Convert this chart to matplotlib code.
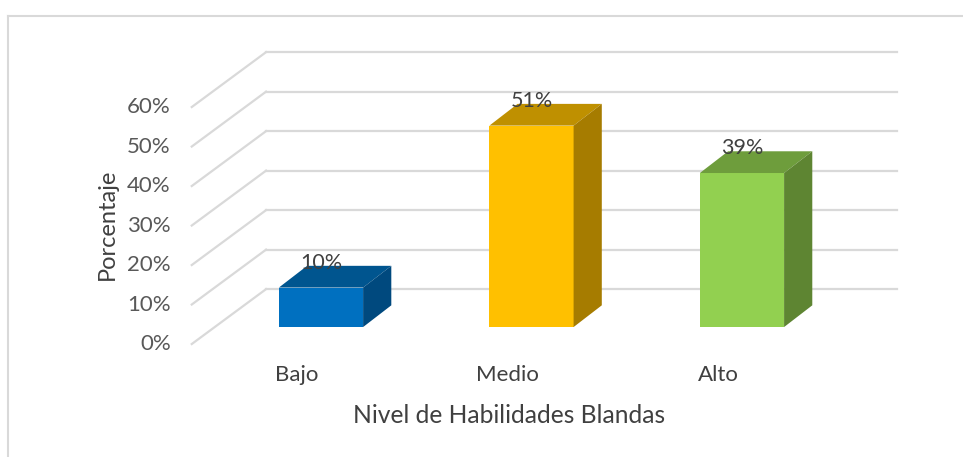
import numpy as np
import matplotlib.pyplot as plt
from matplotlib.patches import Polygon
from matplotlib.lines import Line2D

plt.rcParams['font.family'] = ['Lato', 'DejaVu Sans']

categorias = ['Bajo', 'Medio', 'Alto']
porcentajes = [10, 51, 39]
etiquetas = ['10%', '51%', '39%']
ticks = [0, 10, 20, 30, 40, 50, 60]
tick_labels = ['0%', '10%', '20%', '30%', '40%', '50%', '60%']

col_frente = ['#0070C0', '#FFC000', '#92D050']
col_arriba = ['#00558F', '#BF9000', '#6E9D3C']
col_lado = ['#00497E', '#A67C00', '#5E8532']

# geometria de la "perspectiva" (unidades de datos)
ancho = 0.40
prof_x, prof_y = 0.134, 5.5      # profundidad de la barra
fondo_x, fondo_y = 0.244, 9.6    # pared del fondo respecto al frente de las barras
frente_x, frente_y = -0.109, -4.3  # borde frontal del piso
pared_izq = -0.261
pared_der = 2.736

fig = plt.figure(figsize=(9.63, 4.57), dpi=100)
ax = fig.add_axes([0, 0, 1, 1])
ax.set_xlim(-1.525, 3.050)
ax.set_ylim(-32.9, 82.8)
ax.axis('off')

gris = '#D9D9D9'
for t, lab in zip(ticks, tick_labels):
    yb = t + fondo_y
    ax.plot([pared_izq, pared_der], [yb, yb], color=gris, lw=1.6, zorder=1)
    xf = pared_izq - (fondo_x - frente_x)
    yf = t + frente_y
    ax.plot([xf, pared_izq], [yf, yb], color=gris, lw=1.6, zorder=1)
    ax.text(xf - 0.1, yf, lab, ha='right', va='center', fontsize=16, color='#595959')

for i, (v, lab) in enumerate(zip(porcentajes, etiquetas)):
    x0, x1 = i - ancho / 2, i + ancho / 2
    frente = [(x0, 0), (x1, 0), (x1, v), (x0, v)]
    arriba = [(x0, v), (x1, v), (x1 + prof_x, v + prof_y), (x0 + prof_x, v + prof_y)]
    lado = [(x1, 0), (x1 + prof_x, prof_y), (x1 + prof_x, v + prof_y), (x1, v)]
    ax.add_patch(Polygon(frente, closed=True, fc=col_frente[i], ec='none', zorder=3))
    ax.add_patch(Polygon(arriba, closed=True, fc=col_arriba[i], ec='none', zorder=3))
    ax.add_patch(Polygon(lado, closed=True, fc=col_lado[i], ec='none', zorder=3))
    ax.text(i, v + 6.3, lab, ha='center', va='center', fontsize=15.5, color='#404040', zorder=4)
    ax.text(i + frente_x - 0.005, -12.2, categorias[i], ha='center', va='center',
            fontsize=16, color='#404040')

ax.text(0.895, -22.3, 'Nivel de Habilidades Blandas', ha='center', va='center',
        fontsize=17.7, color='#404040')
ax.text(-1.017, 26.1, 'Porcentaje', ha='center', va='center', rotation=90,
        fontsize=17, color='#404040')

# marco del grafico
fig.add_artist(Line2D([8 / 963, 1], [1 - 16 / 457, 1 - 16 / 457], color=gris, lw=1.5))
fig.add_artist(Line2D([8 / 963, 8 / 963], [0, 1 - 16 / 457], color=gris, lw=1.5))

fig.savefig('out.png', dpi=100)
